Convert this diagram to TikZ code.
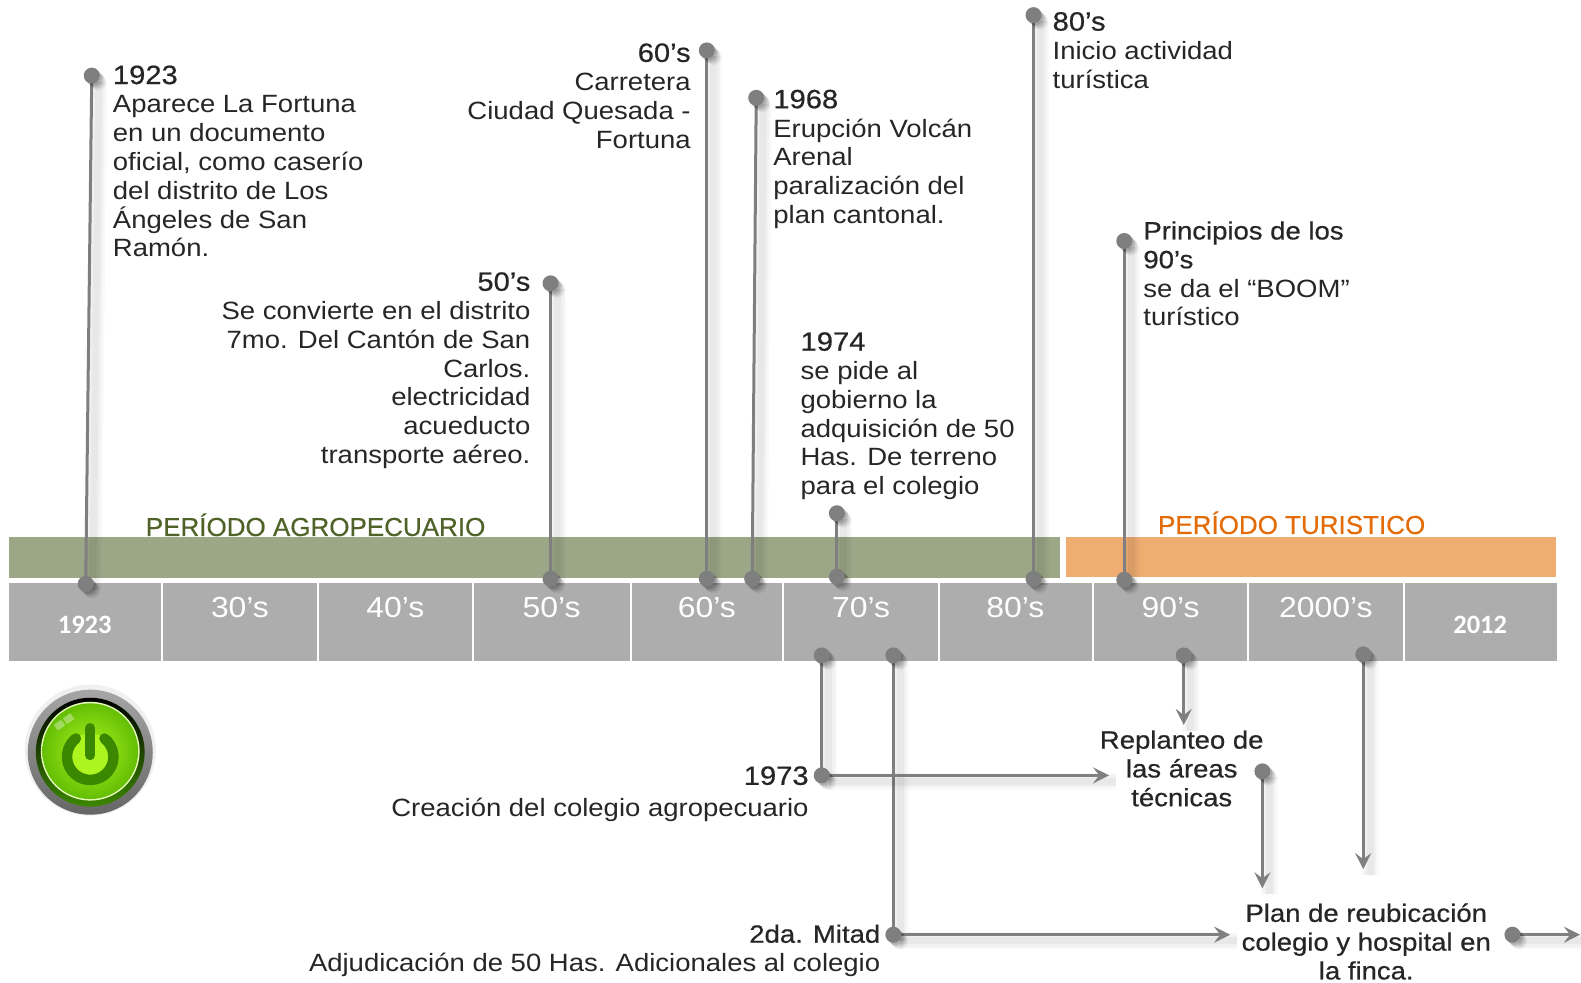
\documentclass[tikz,border=0pt]{standalone}
\usepackage{fontspec}
\setmainfont{Liberation Sans}
\newfontfamily\wideface[FakeStretch=1.1]{Liberation Sans}
\newfontfamily\headface[FakeStretch=1.1,FakeBold=0.6]{Liberation Sans}
\newfontfamily\periodface[FakeBold=0.4]{Liberation Sans}
\newfontfamily\calface{Carlito}
\newcommand{\hd}[1]{{\headface #1}}
\newcommand{\hdy}[1]{{\headface\fontsize{26.5}{28.8}\selectfont #1}}
\usetikzlibrary{arrows.meta,shadings}
\pgfdeclarelayer{base}
\pgfdeclarelayer{lines}
\pgfsetlayers{base,lines,main}
\definecolor{bandgreen}{HTML}{9CA788}
\definecolor{bandorange}{HTML}{EFAD72}
\definecolor{tickgray}{HTML}{ADADAD}
\definecolor{pingray}{HTML}{7F7F7F}
\definecolor{titlegreen}{HTML}{4F6228}
\definecolor{titleorange}{HTML}{E36C09}
\definecolor{pwbright}{RGB}{172,245,30}
\definecolor{pwmid}{RGB}{100,190,5}
\definecolor{pwdark}{RGB}{60,135,0}
\tikzset{
  txt/.style={inner sep=0pt,outer sep=0pt,text=black!85,font=\wideface\fontsize{25}{28.8}\selectfont},
  lefttxt/.style={txt,anchor=north west,align=left},
  righttxt/.style={txt,anchor=north east,align=right},
  midtxt/.style={txt,anchor=north,align=center},
  tick/.style={fill=tickgray,draw=none,inner sep=0pt,outer sep=0pt,anchor=north west,minimum height=78.5pt,text=white},
  ticklab/.style={text=white,inner sep=0pt,font=\wideface\fontsize{29}{30}\selectfont},
  tickbold/.style={text=white,inner sep=0pt,font=\calface\bfseries\fontsize{26.5}{28}\selectfont},
  band/.style={draw=none,inner sep=0pt,outer sep=0pt,anchor=north west},
  period/.style={inner sep=0pt,font=\periodface\fontsize{26}{28}\selectfont},
  pin/.style={circle,fill=pingray,draw=none,minimum size=16pt,inner sep=0pt,outer sep=0pt,
    preaction={fill=black,opacity=.06,transform canvas={shift={(6.5pt,-6.5pt)}}},
    preaction={fill=black,opacity=.08,transform canvas={shift={(5pt,-5pt)}}},
    preaction={fill=black,opacity=.10,transform canvas={shift={(3.5pt,-3.5pt)}}},
    preaction={fill=black,opacity=.12,transform canvas={shift={(2pt,-2pt)}}}},
  stem/.style={draw=pingray,line width=3pt,
    preaction={draw=black,opacity=.025,line width=17pt,arrows=-,transform canvas={shift={(7pt,-6pt)}}},
    preaction={draw=black,opacity=.03,line width=12pt,arrows=-,transform canvas={shift={(7pt,-6pt)}}},
    preaction={draw=black,opacity=.035,line width=7pt,arrows=-,transform canvas={shift={(7pt,-6pt)}}}},
  tip/.style={-{Stealth[length=16pt,width=16pt,inset=6pt]}}
}
\begin{document}
\begin{tikzpicture}[x=1.0083pt,y=-1.0083pt]
\useasboundingbox (0,0) rectangle (1568,974);
\begin{pgfonlayer}{base}
\node[band,fill=bandgreen,minimum width=1051pt,minimum height=40.3pt] (greenband) at (9,533) {};
\node[band,fill=bandorange,minimum width=490pt,minimum height=39.3pt] (orangeband) at (1057,533) {};
\node[tick,minimum width=152.3pt] (t1) at (9,578) {};
\node[tick,minimum width=153.3pt] (t2) at (162,578) {};
\node[tick,minimum width=153.3pt] (t3) at (316,578) {};
\node[tick,minimum width=156.3pt] (t4) at (470,578) {};
\node[tick,minimum width=150.2pt] (t5) at (627,578) {};
\node[tick,minimum width=153.3pt] (t6) at (778,578) {};
\node[tick,minimum width=152.3pt] (t7) at (932,578) {};
\node[tick,minimum width=153.3pt] (t8) at (1085,578) {};
\node[tick,minimum width=153.3pt] (t9) at (1239,578) {};
\node[tick,minimum width=152.3pt] (t10) at (1393,578) {};
\end{pgfonlayer}
% tick labels
\node[tickbold] (l1) at (84,620) {1923};
\node[ticklab] (l2) at (238,603) {30’s};
\node[ticklab] (l3) at (392,603) {40’s};
\node[ticklab] (l4) at (547,603) {50’s};
\node[ticklab] (l5) at (701,603) {60’s};
\node[ticklab] (l6) at (854,603) {70’s};
\node[ticklab] (l7) at (1007,603) {80’s};
\node[ticklab] (l8) at (1161,603) {90’s};
\node[ticklab] (l9) at (1315,603) {2000’s};
\node[tickbold] (l10) at (1468,620) {2012};
% period titles
\node[period,text=titlegreen] (pagro) at (313,520.5) {PERÍODO AGROPECUARIO};
\node[period,text=titleorange] (ptur) at (1281,518.5) {PERÍODO TURISTICO};
% pins
\node[pin] (a1) at (91,75) {};   \node[pin] (a2) at (85,579) {};
\node[pin] (b1) at (546,281) {}; \node[pin] (b2) at (546,574) {};
\node[pin] (c1) at (701,50) {};  \node[pin] (c2) at (701,574) {};
\node[pin] (d1) at (750,97) {};  \node[pin] (d2) at (746,574) {};
\node[pin] (e1) at (830,509) {}; \node[pin] (e2) at (830,572) {};
\node[pin] (f1) at (1025,15) {}; \node[pin] (f2) at (1025,574) {};
\node[pin] (g1) at (1115,239) {};\node[pin] (g2) at (1115,575) {};
\node[pin] (h1) at (815,650) {}; \node[pin] (h2) at (815,769) {};
\node[pin] (i1) at (886,650) {}; \node[pin] (i2) at (886,927) {};
\node[pin] (j1) at (1174,650) {};
\node[pin] (k1) at (1352,649) {};
\node[pin] (m1) at (1252,765) {};
\node[pin] (n1) at (1500,927) {};
\coordinate (h3) at (1100,769);
\coordinate (i3) at (1220,927);
\coordinate (j2) at (1174,719);
\coordinate (k2) at (1352,862);
\coordinate (m2) at (1252,881);
\coordinate (n2) at (1567,927);
\begin{pgfonlayer}{lines}
\draw[stem] (a1.center) -- (a2.center);
\draw[stem] (b1.center) -- (b2.center);
\draw[stem] (c1.center) -- (c2.center);
\draw[stem] (d1.center) -- (d2.center);
\draw[stem] (e1.center) -- (e2.center);
\draw[stem] (f1.center) -- (f2.center);
\draw[stem] (g1.center) -- (g2.center);
\draw[stem] (h1.center) -- (h2.center);
\draw[stem] (i1.center) -- (i2.center);
\draw[stem,tip] (h2.center) -- (h3);
\draw[stem,tip] (i2.center) -- (i3);
\draw[stem,tip] (j1.center) -- (j2);
\draw[stem,tip] (k1.center) -- (k2);
\draw[stem,tip] (m1.center) -- (m2);
\draw[stem,tip] (n1.center) -- (n2);
\end{pgfonlayer}
% texts
\node[lefttxt] (ta) at (112,65) {\hdy{1923}\\Aparece La Fortuna\\en un documento\\oficial, como caserío\\del distrito de Los\\Ángeles de San\\Ramón.};
\node[righttxt] (tb) at (526,270) {\hdy{50’s}\\Se convierte en el distrito\\7mo. Del Cantón de San\\Carlos.\\electricidad\\acueducto\\transporte aéreo.};
\node[righttxt] (tc) at (685,43) {\hdy{60’s}\\Carretera\\Ciudad Quesada -\\Fortuna};
\node[lefttxt] (td) at (767,89) {\hdy{1968}\\Erupción Volcán\\Arenal\\paralización del\\plan cantonal.};
\node[lefttxt] (te) at (794,329.5) {\hdy{1974}\\se pide al\\gobierno la\\adquisición de 50\\Has. De terreno\\para el colegio};
\node[lefttxt] (tf) at (1044,12) {\hdy{80’s}\\Inicio actividad\\turística};
\node[lefttxt] (tg) at (1134,219.5) {\hd{Principios de los}\\\hd{90’s}\\se da el “BOOM”\\turístico};
\node[righttxt] (th) at (802,760) {\hdy{1973}\\[3pt]Creación del colegio agropecuario};
\node[righttxt] (ti) at (873,917) {\hd{2da. Mitad}\\Adjudicación de 50 Has. Adicionales al colegio};
\node[midtxt] (tj) at (1172,724.5) {\hd{Replanteo de}\\\hd{las áreas}\\\hd{técnicas}};
\node[midtxt] (tk) at (1355,896) {\hd{Plan de reubicación}\\\hd{colegio y hospital en}\\\hd{la finca.}};
% power button
\coordinate (pw) at (89.5,746);
\fill[black,opacity=.06] ([yshift=2]pw) circle (65);
\shade[top color=black!35,middle color=black!15,bottom color=black!60] (pw) circle (62);
\shade[top color=black,bottom color=pwdark] (pw) circle (54);
\fill[white!70!pwbright] ([yshift=1]pw) circle (49);
\shade[inner color=pwbright,outer color=pwmid] ([yshift=1]pw) circle (47.5);
\fill[pwbright] ([shift={(0,4.5)}]pw) circle (23);
\draw[line width=10.5pt,pwdark,line cap=round] ([shift={(-14.2,-13.6)}]pw) arc[start angle=232,delta angle=-284,radius=23];
\draw[line width=10pt,pwdark,line cap=round] ([shift={(0,-24)}]pw) -- ([shift={(0,3)}]pw);
\fill[white,opacity=.35,rotate around={35:(pw)}] ([shift={(-14,-43)}]pw) rectangle ++(9,7);
\fill[white,opacity=.35,rotate around={35:(pw)}] ([shift={(-3,-43)}]pw) rectangle ++(9,7);
\end{tikzpicture}
\end{document}
